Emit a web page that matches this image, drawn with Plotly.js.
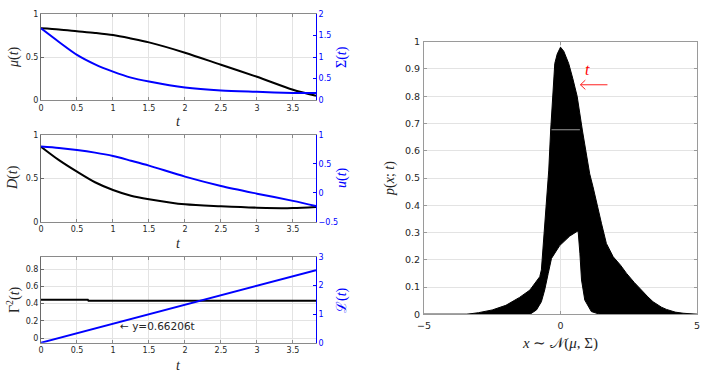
<!DOCTYPE html>
<html>
<head>
<meta charset="utf-8">
<script src="https://cdn.plot.ly/plotly-3.0.1.min.js"></script>
<style>
  html, body { margin: 0; padding: 0; background: #fff; }
  #chart { width: 714px; height: 377px; }
</style>
</head>
<body>
<div id="chart"></div>
<script>
// ---- time histories (left panels) ----
const tGrid  = [0, 0.25, 0.5, 0.75, 1, 1.25, 1.5, 2, 2.5, 3, 3.5, 3.82];
const mu     = [0.833, 0.82, 0.80, 0.78, 0.755, 0.715, 0.67, 0.55, 0.41, 0.27, 0.12, 0.05];
const sigma  = [1.667, 1.35, 1.05, 0.83, 0.66, 0.52, 0.43, 0.29, 0.22, 0.19, 0.165, 0.16];
const dVals  = [0.865, 0.71, 0.577, 0.455, 0.366, 0.30, 0.26, 0.20, 0.178, 0.162, 0.157, 0.17];
const uVals  = [0.80, 0.775, 0.74, 0.695, 0.637, 0.555, 0.47, 0.28, 0.118, -0.015, -0.14, -0.23];
const tGamma = [0, 0.65, 0.66, 3.82];
const gamma2 = [0.445, 0.445, 0.432, 0.432];
const lSlope = 0.66206;              // slope quoted in the fit label
const tL     = [0, 3.82];
const lVals  = tL.map(t => lSlope * t);

// ---- envelope of the density family p(x;t) (right panel) ----
const upperX = [-5, -3.44, -3.0, -2.5, -2.0, -1.5, -1.12, -0.76, -0.70, -0.61, -0.51, -0.43, -0.36, -0.29, -0.21, -0.12, 0.0,
                0.12, 0.30, 0.45, 0.61, 0.80, 1.07, 1.19, 1.32, 1.50, 1.68, 1.93, 2.2, 2.42, 2.7, 2.90, 3.2, 3.39, 3.7, 3.88, 4.2, 4.49, 5];
const upperY = [0, 0.0, 0.006, 0.016, 0.033, 0.062, 0.089, 0.138, 0.163, 0.285, 0.407, 0.529, 0.676, 0.80, 0.92, 0.955, 0.98,
                0.965, 0.92, 0.865, 0.80, 0.676, 0.515, 0.468, 0.407, 0.334, 0.26, 0.211, 0.18, 0.15, 0.117, 0.095, 0.064, 0.046, 0.026, 0.018, 0.008, 0.004, 0];
const lowerX = [5, 1.44, 1.13, 0.89, 0.77, 0.71, 0.645, 0.59, 0.34, -0.03, -0.33, -0.45, -0.58, -0.70, -0.88, -1.12, -5];
const lowerY = [0, 0, 0.01, 0.052, 0.126, 0.224, 0.306, 0.303, 0.287, 0.252, 0.205, 0.15, 0.089, 0.046, 0.016, 0, 0];
const gapX = [-0.33, 0.71];
const gapY = [0.677, 0.677];

// ---- tick labels ----
const tTicks = [0, 0.5, 1, 1.5, 2, 2.5, 3, 3.5];
const tTickText = ['0', '0.5', '1', '1.5', '2', '2.5', '3', '3.5'];
const pTicks = [0, 0.1, 0.2, 0.3, 0.4, 0.5, 0.6, 0.7, 0.8, 0.9, 1];
const pTickText = ['0', '0.1', '0.2', '0.3', '0.4', '0.5', '0.6', '0.7', '0.8', '0.9', '1'];
const xTicks = [-5, 0, 5];

const BLUE = '#0000ff';
const TICKF = { family: 'DejaVu Sans', size: 8, color: '#262626' };
const TICKB = { family: 'DejaVu Sans', size: 8, color: BLUE };
const SERIF = 'Liberation Serif';

function leftX(anchor) {
  return {
    anchor: anchor, domain: [41 / 714, 316 / 714], range: [0, 3.82],
    tickvals: tTicks, ticktext: tTickText, tickfont: TICKF,
    showgrid: true, gridcolor: '#e3e3e3', zeroline: false,
    showline: true, linecolor: '#8a8a8a', linewidth: 1, mirror: 'ticks',
    ticks: 'inside', ticklen: 3, tickcolor: '#8a8a8a'
  };
}
function leftY(anchor, dom, range, ticks) {
  return {
    anchor: anchor, domain: dom, range: range, tickvals: ticks, tickfont: TICKF,
    showgrid: true, gridcolor: '#e3e3e3', zeroline: false,
    showline: true, linecolor: '#6a6a6a', linewidth: 1,
    ticks: 'inside', ticklen: 3, tickcolor: '#6a6a6a'
  };
}
function rightY(over, anchor, range, ticks) {
  return {
    overlaying: over, anchor: anchor, side: 'right', range: range, tickvals: ticks,
    tickfont: TICKB, showgrid: false, zeroline: false,
    showline: true, linecolor: BLUE, linewidth: 1,
    ticks: 'inside', ticklen: 3, tickcolor: BLUE
  };
}
function dom(top, bottom) { return [(377 - bottom) / 377, (377 - top) / 377]; }

const blackLine = { color: '#000', width: 2, shape: 'spline', smoothing: 0.8 };
const blueLine = { color: BLUE, width: 2, shape: 'spline', smoothing: 0.8 };

const traces = [
  { x: tGrid, y: mu, xaxis: 'x', yaxis: 'y', mode: 'lines', line: blackLine },
  { x: tGrid, y: sigma, xaxis: 'x', yaxis: 'y2', mode: 'lines', line: blueLine },
  { x: tGrid, y: dVals, xaxis: 'x2', yaxis: 'y3', mode: 'lines', line: blackLine },
  { x: tGrid, y: uVals, xaxis: 'x2', yaxis: 'y4', mode: 'lines', line: blueLine },
  { x: tGamma, y: gamma2, xaxis: 'x3', yaxis: 'y5', mode: 'lines', line: { color: '#000', width: 2 } },
  { x: tL, y: lVals, xaxis: 'x3', yaxis: 'y6', mode: 'lines', line: { color: BLUE, width: 2 } },
  { x: upperX.concat(lowerX), y: upperY.concat(lowerY), xaxis: 'x4', yaxis: 'y7', mode: 'lines',
    fill: 'toself', fillcolor: '#000', line: { color: '#000', width: 1 } },
  { x: gapX, y: gapY, xaxis: 'x4', yaxis: 'y7', mode: 'lines', line: { color: '#d8d8d8', width: 0.7 } }
];

function title(text, xpx, ypx, opts) {
  return Object.assign({
    text: text, xref: 'paper', yref: 'paper', x: xpx / 714, y: (377 - ypx) / 377,
    xanchor: 'center', yanchor: 'middle', showarrow: false,
    font: { family: SERIF, size: 14, color: '#262626' }
  }, opts || {});
}

// red time-direction arrow on the density panel
const arrowTail = [1.72, 0.842];
const arrowHead = [0.73, 0.842];
const headDx = 0.18, headDy = 0.017;
const red = { color: '#ff2020', width: 1 };

const layout = {
  width: 714, height: 377, margin: { l: 0, r: 0, t: 0, b: 0 },
  paper_bgcolor: '#fff', plot_bgcolor: '#fff', showlegend: false,
  xaxis: leftX('y'),
  yaxis: leftY('x', dom(14, 100), [0, 1], [0, 0.5, 1]),
  yaxis2: rightY('y', 'x', [0, 2], [0, 0.5, 1, 1.5, 2]),
  xaxis2: leftX('y3'),
  yaxis3: leftY('x2', dom(135, 221.7), [0, 1], [0, 0.5, 1]),
  yaxis4: rightY('y3', 'x2', [-0.5, 1], [-0.5, 0, 0.5, 1]),
  xaxis3: leftX('y5'),
  yaxis5: leftY('x3', dom(256.7, 342.7), [-0.051, 0.942], [0, 0.2, 0.4, 0.6, 0.8]),
  yaxis6: rightY('y5', 'x3', [0, 3], [0, 1, 2, 3]),
  xaxis4: {
    anchor: 'y7', domain: [424 / 714, 697 / 714], range: [-5, 5], tickvals: xTicks,
    tickfont: { family: 'DejaVu Sans', size: 9.5, color: '#262626' }, ticklabelstandoff: 2,
    showgrid: true, gridcolor: '#e3e3e3', zeroline: false,
    showline: true, linecolor: '#9a9a9a', mirror: 'ticks', ticks: 'inside', ticklen: 3, tickcolor: '#9a9a9a'
  },
  yaxis7: {
    anchor: 'x4', domain: dom(41.7, 314.3), range: [0, 1], tickvals: pTicks, ticktext: pTickText,
    tickfont: { family: 'DejaVu Sans', size: 9.5, color: '#262626' }, ticklabelstandoff: 1,
    showgrid: true, gridcolor: '#e3e3e3', zeroline: false,
    showline: true, linecolor: '#9a9a9a', mirror: 'ticks', ticks: 'inside', ticklen: 3, tickcolor: '#9a9a9a'
  },
  annotations: [
    title('<i>μ</i>(<i>t</i>)', 14, 57, { textangle: -90 }),
    title('Σ(<i>t</i>)', 342, 57, { textangle: -90, font: { family: SERIF, size: 14, color: BLUE } }),
    title('<i>t</i>', 178.5, 122),
    title('<i>D</i>(<i>t</i>)', 13, 178, { textangle: -90 }),
    title('<i>u</i>(<i>t</i>)', 342, 178, { textangle: -90, font: { family: SERIF, size: 14, color: BLUE } }),
    title('<i>t</i>', 178.5, 244),
    title('Γ<sup>2</sup>(<i>t</i>)', 13, 300, { textangle: -90 }),
    title('ℒ(<i>t</i>)', 342, 300, { textangle: -90, font: { family: SERIF, size: 14, color: BLUE } }),
    title('<i>t</i>', 178.5, 365),
    title('<i>p</i>(<i>x</i>; <i>t</i>)', 390, 178, { textangle: -90 }),
    title('<i>x</i> ∼ 𝒩(<i>μ</i>, Σ)', 560, 343, { font: { family: SERIF, size: 15, color: '#262626' } }),
    {
      text: '← y=0.66206t', xref: 'x3', yref: 'y6', x: 1.07, y: lSlope * 1.07,
      xanchor: 'left', yanchor: 'top', yshift: 4, showarrow: false,
      font: { family: 'DejaVu Sans', size: 10.5, color: '#262626' }
    },
    {
      text: '<i>t</i>', xref: 'x4', yref: 'y7', x: 1.0, y: 0.897, showarrow: false,
      xanchor: 'center', yanchor: 'middle', font: { family: SERIF, size: 16, color: '#ff0000' }
    }
  ],
  shapes: [
    { type: 'line', xref: 'x4', yref: 'y7', x0: arrowTail[0], y0: arrowTail[1], x1: arrowHead[0], y1: arrowHead[1], line: red },
    { type: 'line', xref: 'x4', yref: 'y7', x0: arrowHead[0], y0: arrowHead[1], x1: arrowHead[0] + headDx, y1: arrowHead[1] + headDy, line: red },
    { type: 'line', xref: 'x4', yref: 'y7', x0: arrowHead[0], y0: arrowHead[1], x1: arrowHead[0] + headDx, y1: arrowHead[1] - headDy, line: red }
  ]
};

Plotly.newPlot('chart', traces, layout, { displayModeBar: false, staticPlot: true });
</script>
</body>
</html>
